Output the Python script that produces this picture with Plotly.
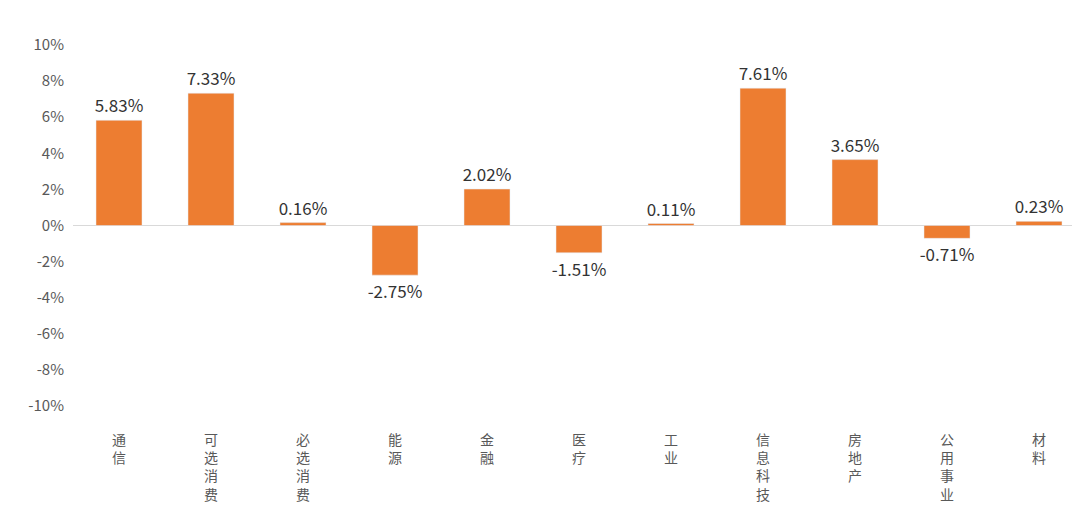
import plotly.graph_objects as go

categories = ["通信", "可选消费", "必选消费", "能源", "金融", "医疗", "工业", "信息科技", "房地产", "公用事业", "材料"]
values = [5.83, 7.33, 0.16, -2.75, 2.02, -1.51, 0.11, 7.61, 3.65, -0.71, 0.23]
tick_vals = list(range(-10, 11, 2))
tick_text = [f"{v}%" for v in tick_vals]

labels = ["<br>".join(list(c)) for c in categories]

fig = go.Figure(go.Bar(
    x=labels, y=values,
    marker_color="#ED7D31",
    text=[f"{v:.2f}%" for v in values],
    textposition="outside",
    constraintext="none",
    textfont=dict(size=17, color="#333333"),
    cliponaxis=False,
))
fig.update_layout(
    width=1080, height=510,
    margin=dict(l=65, r=3, t=37, b=112, autoexpand=False),
    plot_bgcolor="white", paper_bgcolor="white",
    bargap=0.5, showlegend=False,
    font=dict(family="Noto Sans CJK SC, Noto Sans, sans-serif", color="#595959"),
)
fig.update_yaxes(range=[-10, 10], tickvals=tick_vals, ticktext=tick_text,
                 showgrid=False, zeroline=True, zerolinecolor="#D9D9D9", zerolinewidth=1,
                 tickfont=dict(size=15, color="#595959"), ticklabelstandoff=8, automargin=False)
fig.update_xaxes(showgrid=False, showline=False, ticks="", automargin=False,
                 tickfont=dict(size=14, color="#595959"), ticklabelstandoff=24)
fig.write_html("out.html")
